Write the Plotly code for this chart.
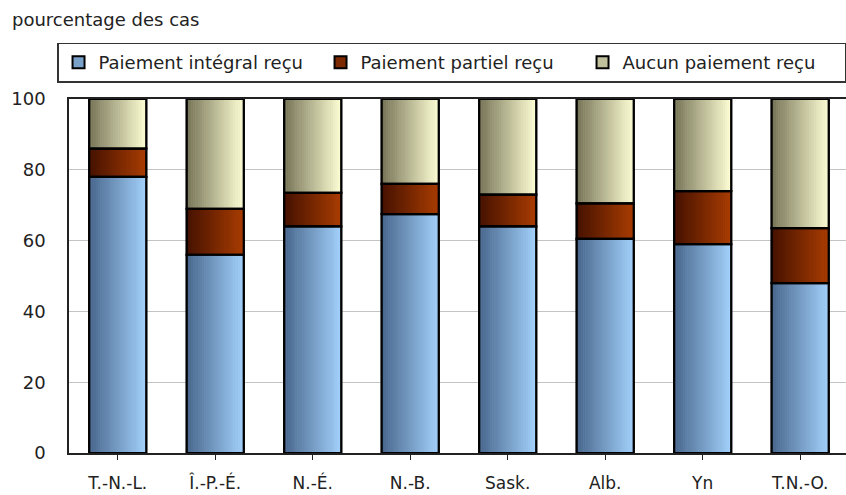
import plotly.graph_objects as go

# Provinces / territories (category axis)
provinces = ["T.-N.-L.", "Î.-P.-É.", "N.-É.", "N.-B.", "Sask.", "Alb.", "Yn", "T.N.-O."]

# Share of cases (%) by payment outcome
paiement_integral = [78, 56, 64, 67.5, 64, 60.5, 59, 48]
paiement_partiel = [8, 13, 9.5, 8.5, 9, 10, 15, 15.5]
aucun_paiement = [14, 31, 26.5, 24, 27, 29.5, 26, 36.5]

series_names = ["Paiement intégral reçu", "Paiement partiel reçu", "Aucun paiement reçu"]
series_values = [paiement_integral, paiement_partiel, aucun_paiement]

# Left (shadow) and right (highlight) colours of each series' horizontal gradient
gradients = [
    ((74, 104, 142), (162, 208, 250)),
    ((70, 18, 0), (168, 60, 2)),
    ((120, 118, 88), (253, 253, 212)),
]

BAR_WIDTH = 0.585
N_SLICES = 26
FONT = "DejaVu Sans"
FONT_SIZE = 18
TEXT_COLOR = "#222222"

x_idx = list(range(len(provinces)))

# stacking bases
bases = []
running = [0.0] * len(provinces)
for vals in series_values:
    bases.append(list(running))
    running = [r + v for r, v in zip(running, vals)]


def mix(c0, c1, t):
    return "rgb({},{},{})".format(*[round(a + (b - a) * t) for a, b in zip(c0, c1)])


fig = go.Figure()

# Legend entries (sit beneath the shaded slices)
for name, vals, base, (c0, c1) in zip(series_names, series_values, bases, gradients):
    fig.add_trace(go.Bar(
        x=x_idx, y=vals, base=base, name=name,
        width=BAR_WIDTH,
        marker=dict(color=mix(c0, c1, 0.55), line=dict(color="black", width=2)),
        hoverinfo="skip",
    ))

# Gradient shading: each segment is built from thin vertical slices
step = BAR_WIDTH / N_SLICES
for vals, base, (c0, c1) in zip(series_values, bases, gradients):
    for k in range(N_SLICES):
        t = k / (N_SLICES - 1)
        fig.add_trace(go.Bar(
            x=x_idx, y=vals, base=base,
            width=step * 1.15,
            offset=-BAR_WIDTH / 2 + k * step,
            marker=dict(color=mix(c0, c1, t), line=dict(width=0)),
            showlegend=False, hoverinfo="skip",
        ))

# Black outlines around every segment
for vals, base in zip(series_values, bases):
    fig.add_trace(go.Bar(
        x=x_idx, y=vals, base=base,
        width=BAR_WIDTH,
        marker=dict(color="rgba(0,0,0,0)", line=dict(color="black", width=2.2)),
        showlegend=False, hoverinfo="skip",
    ))

fig.update_layout(
    width=846, height=495,
    margin=dict(l=69, r=0, t=98.5, b=42, pad=0, autoexpand=False),
    barmode="overlay",
    plot_bgcolor="white",
    paper_bgcolor="white",
    font=dict(family=FONT, size=FONT_SIZE, color=TEXT_COLOR),
    title=dict(
        text="pourcentage des cas",
        x=12 / 846, xanchor="left", xref="container",
        y=1 - 20 / 495, yanchor="middle", yref="container",
        font=dict(family=FONT, size=FONT_SIZE, color=TEXT_COLOR),
    ),
    legend=dict(
        orientation="h",
        x=-0.0154, xanchor="left",
        y=1.0465, yanchor="bottom",
        bordercolor="#333333", borderwidth=1.5,
        bgcolor="white",
        entrywidth=217, entrywidthmode="pixels",
        font=dict(family=FONT, size=FONT_SIZE, color=TEXT_COLOR),
        traceorder="normal",
    ),
    xaxis=dict(
        tickmode="array", tickvals=x_idx, ticktext=provinces,
        range=[-0.5, 7.47],
        automargin=False,
        showgrid=False, zeroline=False,
        showline=True, linecolor="#222222", linewidth=1.5, mirror=True,
        ticks="outside", ticklen=5, tickcolor="#222222", tickwidth=1,
        tickson="boundaries",
        ticklabelstandoff=9,
        tickfont=dict(family=FONT, size=17, color=TEXT_COLOR),
    ),
    yaxis=dict(
        range=[0, 100], tickmode="linear", tick0=0, dtick=20,
        automargin=False,
        showgrid=True, gridcolor="#c4c4c4", gridwidth=1,
        zeroline=False,
        showline=True, linecolor="#222222", linewidth=1.5, mirror=True,
        ticks="", ticklabelstandoff=18,
        tickfont=dict(family=FONT, size=FONT_SIZE, color=TEXT_COLOR),
    ),
)

fig.write_html("out.html")
